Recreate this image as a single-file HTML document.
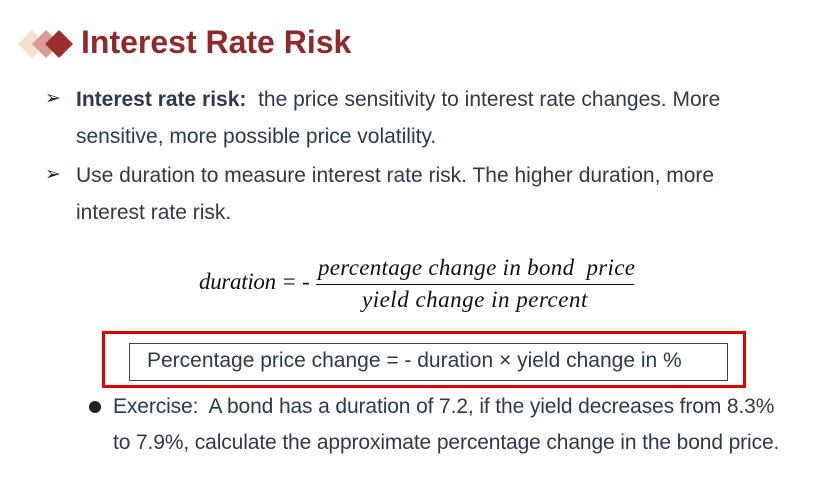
<!DOCTYPE html>
<html><head><meta charset="utf-8"><style>
body{margin:0;width:836px;height:486px;background:#fff;position:relative;overflow:hidden;font-family:"Liberation Sans",sans-serif;color:#2d3a4b}
.a{position:absolute;white-space:nowrap}
.t{font-size:21px;line-height:26px}
.i{font-family:"Liberation Serif",serif;font-style:italic;font-size:23px;color:#111;line-height:26px}
.arr{font-size:19px;color:#222}
</style></head><body>
<svg class="a" style="left:12px;top:22px" width="70" height="44">
<polygon points="6,22 20,8 34,22 20,36" fill="#f3e1c9"/>
<polygon points="20,22 34,8 48,22 34,36" fill="#d99a9a"/>
<polygon points="33,22 47,8 61,22 47,36" fill="#9e2f2f"/>
</svg>
<div class="a" style="left:81px;top:23px;font-size:32px;font-weight:bold;color:#8f2a2c;line-height:38px">Interest Rate Risk</div>

<div class="a arr" style="left:45px;top:87px">➢</div>
<div class="a t" style="left:76px;top:87px"><b>Interest rate risk:</b>&nbsp; the price sensitivity to interest rate changes. More</div>
<div class="a t" style="left:76px;top:124px">sensitive, more possible price volatility.</div>
<div class="a arr" style="left:45px;top:163px">➢</div>
<div class="a t" style="left:76px;top:163px">Use duration to measure interest rate risk. The higher duration, more</div>
<div class="a t" style="left:76px;top:200px">interest rate risk.</div>

<div class="a i" style="left:199px;top:269px;letter-spacing:-0.3px">duration = -</div>
<div class="a i" style="left:318px;top:255px;letter-spacing:0.3px">percentage change in bond&nbsp; price</div>
<div class="a" style="left:316px;top:284px;width:318px;height:1px;background:#111"></div>
<div class="a i" style="left:362px;top:287px;letter-spacing:0.5px">yield change in percent</div>

<div class="a" style="left:102px;top:331px;width:638px;height:51px;border:3px solid #e00000"></div>
<div class="a" style="left:129px;top:343px;width:597px;height:36px;border:1px solid #444"></div>
<div class="a t" style="left:147px;top:348px">Percentage price change = - duration × yield change in %</div>

<div class="a" style="left:89px;top:401px;width:12px;height:12px;border-radius:50%;background:#222"></div>
<div class="a t" style="left:113px;top:394px;letter-spacing:-0.12px">Exercise:&nbsp; A bond has a duration of 7.2, if the yield decreases from 8.3%</div>
<div class="a t" style="left:113px;top:430px;letter-spacing:-0.12px">to 7.9%, calculate the approximate percentage change in the bond price.</div>
</body></html>
